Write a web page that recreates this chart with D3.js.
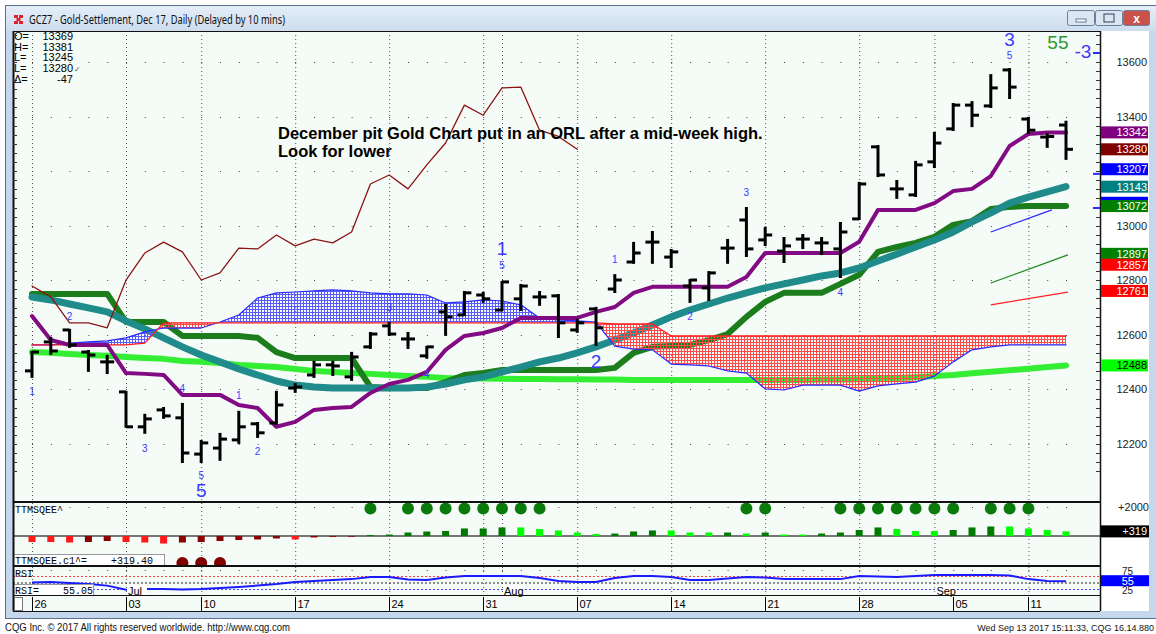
<!DOCTYPE html>
<html>
<head>
<meta charset="utf-8">
<script src="https://d3js.org/d3.v7.min.js"></script>
<style>
  html, body { margin: 0; padding: 0; background: #fff; }
  svg { display: block; font-family: "Liberation Sans", Arial, sans-serif; }
</style>
</head>
<body>
<div id="chart"></div>
<script>
// GCZ7 daily chart: bars, ichimoku-style lines, TTM squeeze and RSI panels

const tradingDays = ["06-26","06-27","06-28","06-29","06-30","07-03","07-05","07-06","07-07","07-10",
    "07-11","07-12","07-13","07-14","07-17","07-18","07-19","07-20","07-21","07-24",
    "07-25","07-26","07-27","07-28","07-31","08-01","08-02","08-03","08-04","08-07",
    "08-08","08-09","08-10","08-11","08-14","08-15","08-16","08-17","08-18","08-21",
    "08-22","08-23","08-24","08-25","08-28","08-29","08-30","08-31","09-01","09-05",
    "09-06","09-07","09-08","09-11","09-12","09-13"];

const opens  = [12468,12574,12618,12537,12501,12391,12263,12325,12296,12163,12185,12215,12274,12277,12405,12453,12490,12446,12556,12633,
    12585,12523,12684,12673,12746,12691,12732,12739,12743,12618,12695,12768,12867,12940,12885,12779,12772,12918,13021,12948,
    12907,12951,12937,12915,13025,13289,13135,13113,13234,13355,13442,13439,13571,13391,13325,13369];
const highs  = [12537,12589,12618,12541,12523,12391,12307,12332,12347,12211,12237,12318,12277,12391,12420,12501,12501,12534,12607,12644,
    12607,12556,12710,12757,12754,12794,12783,12757,12746,12655,12699,12819,12937,12977,12911,12801,12830,12948,13065,12992,
    12955,12966,12955,13010,13157,13292,13164,13234,13340,13446,13453,13552,13574,13395,13336,13381];
const lows   = [12446,12530,12556,12468,12460,12263,12241,12296,12134,12134,12142,12204,12226,12274,12391,12446,12453,12435,12552,12600,
    12552,12516,12600,12673,12721,12691,12691,12710,12592,12611,12563,12757,12864,12864,12849,12721,12728,12864,12889,12929,
    12867,12918,12896,12812,13025,13182,13102,13109,13215,13351,13365,13435,13468,13340,13289,13245];
const closes = [12537,12541,12563,12526,12501,12263,12292,12303,12167,12204,12218,12263,12241,12343,12409,12490,12486,12519,12603,12603,
    12585,12556,12666,12754,12732,12794,12779,12739,12644,12644,12626,12801,12900,12940,12904,12801,12827,12918,12915,12966,
    12926,12951,12937,12977,13153,13186,13135,13223,13303,13442,13405,13505,13508,13350,13327,13280];

const conversionLine = [12669,12581,12563,12563,12563,12460,12457,12453,12380,12380,12380,12343,12332,12263,12281,12325,12332,12336,12387,12420,
    12435,12464,12545,12596,12607,12625,12662,12662,12662,12662,12684,12702,12754,12776,12776,12776,12776,12776,12812,12900,
    12900,12900,12900,12900,12941,13058,13058,13058,13083,13127,13135,13182,13292,13336,13342,13342];
const baseLine = [12750,12750,12750,12750,12750,12647,12647,12647,12596,12596,12596,12596,12589,12537,12515,12515,12515,12515,12409,12405,
    12405,12405,12427,12453,12460,12471,12471,12471,12471,12471,12471,12479,12534,12556,12559,12563,12581,12603,12666,12721,
    12754,12754,12754,12787,12820,12904,12922,12937,12959,13003,13017,13061,13069,13072,13072,13072];
const tealAverage = [12739,12728,12713,12699,12684,12651,12622,12589,12556,12526,12501,12475,12453,12431,12416,12409,12405,12405,12405,12405,
    12405,12409,12420,12435,12446,12464,12482,12501,12515,12534,12556,12581,12607,12636,12666,12691,12713,12735,12754,12772,
    12787,12801,12816,12827,12845,12871,12896,12922,12948,12977,13014,13047,13083,13105,13124,13143];
const limeAverage = [12537,12534,12530,12526,12523,12519,12515,12512,12504,12501,12497,12490,12486,12482,12475,12468,12464,12460,12457,12453,
    12449,12446,12442,12441,12440,12439,12438,12438,12437,12437,12436,12436,12435,12435,12435,12435,12435,12435,12435,12435,
    12435,12435,12436,12436,12437,12439,12442,12445,12449,12453,12459,12465,12470,12476,12482,12488];
const spanA = [12563,12563,12563,12563,12563,12563,12570,12644,12644,12644,12644,12644,12644,12644,12644,12644,12644,12644,12644,12644,
    12644,12644,12644,12644,12644,12644,12644,12644,12644,12644,12644,12640,12640,12640,12596,12596,12596,12596,12596,12596,
    12596,12596,12596,12596,12596,12596,12596,12596,12596,12596,12596,12596,12596,12596,12596,12596];
const spanB = [12563,12563,12570,12574,12578,12589,12611,12625,12625,12625,12647,12673,12735,12754,12757,12761,12765,12761,12754,12750,
    12750,12746,12717,12721,12728,12724,12710,12662,12655,12651,12647,12559,12548,12545,12493,12490,12486,12468,12460,12402,
    12398,12416,12416,12416,12394,12413,12420,12427,12449,12501,12545,12556,12563,12563,12563,12563];
// closes shown 26 sessions back
const laggingSpan = [12779,12739,12644,12644,12626,12801,12900,12940,12904,12801,12827,12918,12915,12966,12926,12951,12937,12977,13153,13186,
    13135,13223,13303,13442,13405,13505,13508,13350,13327,13280];

const trendSegments = [
    { name: "blue",  from: 51, to: 54.25, v0: 12977, v1: 13058 },
    { name: "green", from: 51, to: 55.1,  v0: 12790, v1: 12893 },
    { name: "red",   from: 51, to: 55.1,  v0: 12710, v1: 12757 }
];

const squeezeHist = [-414,-414,-450,-414,-345,-414,-450,-520,-450,-414,-345,-276,-240,-170,-240,-100,-60,-50,70,100,
    240,310,345,520,520,590,590,480,380,240,140,170,310,380,380,240,240,240,170,240,
    100,100,170,240,414,590,480,345,345,414,590,655,655,520,414,319];
// R falling below zero, r rising below zero, g rising above zero, G falling above zero
const squeezeTone = "RRRrrRRRrrrrrrRrrrggggggggGGGGGgggGGGgGgGGggggGGGgggGGGG";
const squeezeDotsTop = ["07-21","07-25","07-26","07-27","07-28","07-31","08-01","08-02","08-03","08-18","08-21",
    "08-25","08-28","08-29","08-30","08-31","09-01","09-05","09-07","09-08","09-11"];
const squeezeDotsBottom = ["07-07","07-10","07-11"];

const rsiValues = [50,52,48,44,38,22,25,25,23,25,29,33,38,44,52,56,60,63,71,71,
    62,60,69,75,75,75,75,67,56,52,52,67,75,75,71,60,60,65,71,69,
    63,63,63,63,75,73,71,75,79,79,79,79,77,63,56,55];

const priceTickValues = [12200,12400,12600,12800,13000,13200,13400,13600];
const weekStarts = ["06-26","07-03","07-10","07-17","07-24","07-31","08-07","08-14","08-21","08-28","09-05","09-11"];
const weekLabels = ["26","03","10","17","24","31","07","14","21","28","05","11"];
const gridDays = ["06-26","07-03","07-10","07-17","07-24","07-31","08-01","08-07","08-14","08-21","08-28","09-01","09-11"];
const monthStarts = ["07-03","08-01","09-01"];
const monthLabels = ["Jul","Aug","Sep"];

const waveSmall = [
    ["06-26", 12391, "1"], ["06-28", 12666, "2"], ["07-05", 12185, "3"], ["07-07", 12402, "4"],
    ["07-10", 12083, "5"], ["07-12", 12376, "1"], ["07-13", 12171, "2"], ["07-24", 12702, "3"],
    ["07-26", 12453, "4"], ["08-01", 12856, "5"], ["08-09", 12878, "1"], ["08-15", 12666, "2"],
    ["08-18", 13120, "3"], ["08-25", 12754, "4"], ["09-08", 13622, "5"]
];
const waveBig = [["07-10", 12028, "5"], ["08-01", 12915, "1"], ["08-08", 12501, "2"], ["09-08", 13681, "3"]];

const valueBoxes = [
    { v: 13342, text: "13342", fill: "#800080", ink: "#fff" },
    { v: 13280, text: "13280", fill: "#800000", ink: "#fff" },
    { v: 13207, text: "13207", fill: "#0000ff", ink: "#fff" },
    { v: 13143, text: "13143", fill: "#008080", ink: "#fff" },
    { v: 13084, text: "", fill: "#0000ff", ink: "#fff" },
    { v: 13072, text: "13072", fill: "#008000", ink: "#fff" },
    { v: 12897, text: "12897", fill: "#008000", ink: "#fff" },
    { v: 12857, text: "12857", fill: "#ff0000", ink: "#fff" },
    { v: 12761, text: "12761", fill: "#ff0000", ink: "#fff" },
    { v: 12488, text: "12488", fill: "#00ff00", ink: "#000" }
];
const blueAxisMarks = [13633, 13190, 13065];

const headerRows = [["O=", "13369"], ["H=", "13381"], ["L=", "13245"], ["L=", "13280"], ["\u0394=", "-47"]];

// ---------------------------------------------------------------
const W = 1156, H = 634;
const plotLeft = 13, plotRight = 1100;
const priceTop = 31, priceBottom = 501;
const sqTop = 502, sqBottom = 566;
const rsiTop = 566, rsiBottom = 595;
const axisBottom = 611;

const x = d3.scaleLinear().domain([0, tradingDays.length - 1]).range([32, 1066]);
const y = d3.scaleLinear().domain([12200, 13600]).range([444, 62]);
const ySq = d3.scaleLinear().domain([0, 2000]).range([536, 507]);
const yRsi = d3.scaleLinear().domain([25, 75]).range([589, 576]);
const dayIdx = d => tradingDays.indexOf(d);

const svg = d3.select("#chart").append("svg")
    .attr("width", W)
    .attr("height", H)
    .attr("viewBox", `0 0 ${W} ${H}`);

const defs = svg.append("defs");

const titleGrad = defs.append("linearGradient").attr("id", "title-grad")
    .attr("x1", "0%").attr("x2", "0%").attr("y1", "0%").attr("y2", "100%");
titleGrad.append("stop").attr("offset", "0%").attr("stop-color", "#e4eef9");
titleGrad.append("stop").attr("offset", "100%").attr("stop-color", "#cddded");

function addHatch(id, color) {
    const p = defs.append("pattern").attr("id", id)
        .attr("width", 3).attr("height", 3)
        .attr("patternUnits", "userSpaceOnUse");
    p.append("rect").attr("width", 3).attr("height", 1).attr("fill", color);
    p.append("rect").attr("width", 1).attr("height", 3).attr("fill", color);
}
addHatch("hatch-blue", "#5a5aff");
addHatch("hatch-red", "#ff4a4a");

defs.append("clipPath").attr("id", "clip-price")
    .append("rect").attr("x", plotLeft).attr("y", priceTop)
    .attr("width", plotRight - plotLeft).attr("height", priceBottom - priceTop);
defs.append("clipPath").attr("id", "clip-sq")
    .append("rect").attr("x", plotLeft).attr("y", sqTop)
    .attr("width", plotRight - plotLeft).attr("height", sqBottom - sqTop);

const idx = d3.range(tradingDays.length);
defs.append("clipPath").attr("id", "clip-above-red")
    .append("path")
    .attr("d", d3.area().x(i => x(i)).y0(priceTop).y1(i => y(spanA[i]))(idx));
defs.append("clipPath").attr("id", "clip-below-red")
    .append("path")
    .attr("d", d3.area().x(i => x(i)).y0(priceBottom).y1(i => y(spanA[i]))(idx));

// ---------- window chrome ----------
svg.append("rect").attr("width", W).attr("height", H).attr("fill", "#ffffff");
svg.append("rect")
    .attr("x", 5.5).attr("y", 5.5).attr("width", 1160).attr("height", 613)
    .attr("fill", "#c4d7ed").attr("stroke", "#5b7091");
svg.append("rect")
    .attr("x", 6).attr("y", 6).attr("width", 1160).attr("height", 25)
    .attr("fill", "url(#title-grad)");

const icon = svg.append("g").attr("transform", "translate(14,15)");
[[0,0],[5,0],[2.5,3],[0,6],[5,6]].forEach(([a, b]) => {
    icon.append("rect").attr("x", a).attr("y", b).attr("width", 4).attr("height", 3).attr("fill", "#e0202a");
});

svg.append("text")
    .attr("x", 29).attr("y", 24)
    .attr("font-family", "'Noto Sans', 'Liberation Sans', sans-serif")
    .attr("font-size", 12).attr("fill", "#111")
    .attr("textLength", 256).attr("lengthAdjust", "spacingAndGlyphs")
    .text("GCZ7 - Gold-Settlement, Dec 17, Daily (Delayed by 10 mins)");

const buttons = [
    { x: 1067, w: 27, fill: "#dbe6f3", glyph: "min" },
    { x: 1095, w: 27, fill: "#dbe6f3", glyph: "max" },
    { x: 1123, w: 26, fill: "#c9534a", glyph: "close" }
];
buttons.forEach(b => {
    svg.append("rect").attr("x", b.x + 0.5).attr("y", 10.5).attr("width", b.w).attr("height", 15)
        .attr("rx", 2).attr("fill", b.fill).attr("stroke", "#6c7f9a");
    const cx = b.x + b.w / 2 + 0.5;
    if (b.glyph === "min") {
        svg.append("rect").attr("x", cx - 5).attr("y", 19).attr("width", 10).attr("height", 3)
            .attr("fill", "#fff").attr("stroke", "#4a5a70").attr("stroke-width", 0.8);
    } else if (b.glyph === "max") {
        svg.append("rect").attr("x", cx - 5).attr("y", 14).attr("width", 10).attr("height", 8)
            .attr("fill", "none").attr("stroke", "#4a5a70").attr("stroke-width", 1.2);
    } else {
        svg.append("text").attr("x", cx).attr("y", 22.5).attr("text-anchor", "middle")
            .attr("font-size", 12).attr("font-weight", "bold").attr("fill", "#fff").text("x");
    }
});

// plot surfaces
svg.append("rect")
    .attr("x", plotLeft).attr("y", priceTop)
    .attr("width", plotRight - plotLeft).attr("height", axisBottom - priceTop)
    .attr("fill", "#f5fbf7");
svg.append("rect")
    .attr("x", plotRight).attr("y", priceTop)
    .attr("width", 49).attr("height", axisBottom - priceTop)
    .attr("fill", "#ffffff");

// ---------- grids ----------
const grid = svg.append("g").attr("class", "grid");
grid.selectAll("line.vgrid")
    .data(gridDays)
    .join("line")
    .attr("class", "vgrid")
    .attr("x1", d => x(dayIdx(d)) + 0.5).attr("x2", d => x(dayIdx(d)) + 0.5)
    .attr("y1", priceTop).attr("y2", rsiBottom)
    .attr("stroke", "#555").attr("stroke-width", 1).attr("stroke-dasharray", "1,3");

const dotRows = priceTickValues.map(v => y(v)).concat([ySq(2000), yRsi(100)]);
dotRows.forEach(rowY => {
    grid.append("g").selectAll("rect")
        .data(idx)
        .join("rect")
        .attr("x", i => x(i)).attr("y", Math.round(rowY))
        .attr("width", 1).attr("height", 1)
        .attr("fill", "#444");
});

// ---------- price panel ----------
const price = svg.append("g").attr("clip-path", "url(#clip-price)");

function drawLine(values, color, width, startIndex = 0) {
    price.append("path")
        .datum(values)
        .attr("fill", "none")
        .attr("stroke", color)
        .attr("stroke-width", width)
        .attr("stroke-linejoin", "round")
        .attr("stroke-linecap", "round")
        .attr("d", d3.line().x((d, i) => x(i + startIndex)).y(d => y(d)));
}

drawLine(limeAverage, "#33ee33", 6);
drawLine(baseLine, "#1c7d1c", 6);
drawLine(tealAverage, "#1f8b8b", 7);

const cloud = d3.area().x(i => x(i)).y0(i => y(spanA[i])).y1(i => y(spanB[i]));
price.append("path").attr("d", cloud(idx)).attr("fill", "url(#hatch-blue)").attr("clip-path", "url(#clip-above-red)");
price.append("path").attr("d", cloud(idx)).attr("fill", "url(#hatch-red)").attr("clip-path", "url(#clip-below-red)");
drawLine(spanB, "#2a2aff", 1.2);
drawLine(spanA, "#ff1a1a", 1.2);

drawLine(conversionLine, "#820a82", 4);
drawLine(laggingSpan, "#8b1414", 1.3);

trendSegments.forEach(s => {
    const color = { blue: "#2a2aff", green: "#1c8a1c", red: "#ff2020" }[s.name];
    price.append("line")
        .attr("x1", x(s.from)).attr("y1", y(s.v0))
        .attr("x2", x(s.to)).attr("y2", y(s.v1))
        .attr("stroke", color).attr("stroke-width", 1.3);
});

// OHLC bars
const bars = price.append("g").selectAll("g")
    .data(idx)
    .join("g")
    .attr("stroke", "#000")
    .attr("stroke-width", 3);
bars.append("line")
    .attr("x1", i => x(i)).attr("x2", i => x(i))
    .attr("y1", i => y(highs[i]) - 1).attr("y2", i => y(lows[i]) + 1);
bars.append("line")
    .attr("x1", i => x(i) - 7).attr("x2", i => x(i))
    .attr("y1", i => y(opens[i])).attr("y2", i => y(opens[i]));
bars.append("line")
    .attr("x1", i => x(i)).attr("x2", i => x(i) + 7)
    .attr("y1", i => y(closes[i])).attr("y2", i => y(closes[i]));

// wave counts
const waves = svg.append("g")
    .attr("fill", "#3a3aff")
    .attr("text-anchor", "middle")
    .attr("dominant-baseline", "central");
waves.selectAll("text.small")
    .data(waveSmall)
    .join("text")
    .attr("class", "small")
    .attr("x", d => x(dayIdx(d[0]))).attr("y", d => y(d[1]))
    .attr("font-size", 10)
    .text(d => d[2]);
waves.selectAll("text.big")
    .data(waveBig)
    .join("text")
    .attr("class", "big")
    .attr("x", d => x(dayIdx(d[0]))).attr("y", d => y(d[1]))
    .attr("font-size", 19)
    .text(d => d[2]);
svg.append("text")
    .attr("x", x(54.57)).attr("y", y(13670))
    .attr("text-anchor", "middle").attr("dominant-baseline", "central")
    .attr("font-size", 19).attr("fill", "#2f972f")
    .text("55");
svg.append("text")
    .attr("x", x(55.9)).attr("y", y(13640))
    .attr("text-anchor", "middle").attr("dominant-baseline", "central")
    .attr("font-size", 19).attr("fill", "#3a3aff")
    .text("-3");

// comment text
const note = svg.append("g")
    .attr("font-family", "'Liberation Sans', Arial, sans-serif")
    .attr("font-weight", "bold")
    .attr("font-size", 16.5)
    .attr("fill", "#000");
note.append("text").attr("x", 278).attr("y", 139)
    .text("December pit Gold Chart put in an ORL after a mid-week high.");
note.append("text").attr("x", 278).attr("y", 157)
    .text("Look for lower");

// header readout
const header = svg.append("g").attr("font-size", 11).attr("fill", "#000");
headerRows.forEach((r, k) => {
    header.append("text").attr("x", 14).attr("y", 40 + k * 10.7).text(r[0]);
    header.append("text").attr("x", 73).attr("y", 40 + k * 10.7).attr("text-anchor", "end").text(r[1]);
});
header.append("text").attr("x", 74).attr("y", 40 + 3 * 10.7).attr("font-size", 8).attr("fill", "#555").text("\u2713");

// ---------- squeeze panel ----------
const sq = svg.append("g").attr("clip-path", "url(#clip-sq)");
sq.append("line")
    .attr("x1", plotLeft).attr("x2", plotRight)
    .attr("y1", ySq(0)).attr("y2", ySq(0))
    .attr("stroke", "#777").attr("stroke-width", 2);
const toneColor = { R: "#ff1a1a", r: "#8b0000", G: "#00ff00", g: "#007a00" };
sq.selectAll("rect.hist")
    .data(idx)
    .join("rect")
    .attr("class", "hist")
    .attr("x", i => x(i) - 3.5)
    .attr("width", 7)
    .attr("y", i => Math.min(ySq(0), ySq(squeezeHist[i])))
    .attr("height", i => Math.abs(ySq(squeezeHist[i]) - ySq(0)))
    .attr("fill", i => toneColor[squeezeTone[i]]);
sq.selectAll("circle.top")
    .data(squeezeDotsTop)
    .join("circle")
    .attr("class", "top")
    .attr("cx", d => x(dayIdx(d))).attr("cy", 508.5).attr("r", 6)
    .attr("fill", "#0a7a0a");
sq.selectAll("circle.bottom")
    .data(squeezeDotsBottom)
    .join("circle")
    .attr("class", "bottom")
    .attr("cx", d => x(dayIdx(d))).attr("cy", 563).attr("r", 6)
    .attr("fill", "#800000");

const mono = "'Liberation Mono', 'DejaVu Sans Mono', monospace";
svg.append("text").attr("x", 15).attr("y", 513)
    .attr("font-family", mono).attr("font-size", 10).attr("fill", "#000").text("TTMSQEE^");
svg.append("rect").attr("x", 13.5).attr("y", 554.5).attr("width", 151).attr("height", 12)
    .attr("fill", "#fff").attr("stroke", "#999");
svg.append("text").attr("x", 15).attr("y", 564)
    .attr("font-family", mono).attr("font-size", 10).attr("fill", "#000")
    .attr("xml:space", "preserve").text("TTMSQEE.c1^=    +319.40");

// ---------- RSI panel ----------
const rsiRefs = [[75, "#ff4040"], [50, "#222"], [25, "#4040ff"]];
rsiRefs.forEach(([v, c]) => {
    svg.append("line")
        .attr("x1", plotLeft).attr("x2", plotRight)
        .attr("y1", yRsi(v) + 0.5).attr("y2", yRsi(v) + 0.5)
        .attr("stroke", c).attr("stroke-width", 1).attr("stroke-dasharray", "2,2");
});
svg.append("path")
    .datum(rsiValues)
    .attr("fill", "none")
    .attr("stroke", "#1a1aff")
    .attr("stroke-width", 2)
    .attr("d", d3.line().x((d, i) => x(i)).y(d => yRsi(d)));

svg.append("text").attr("x", 15).attr("y", 577)
    .attr("font-family", mono).attr("font-size", 10).attr("fill", "#000").text("RSI");
svg.append("rect").attr("x", 13.5).attr("y", 584.5).attr("width", 80).attr("height", 11)
    .attr("fill", "#fff").attr("stroke", "#999");
svg.append("text").attr("x", 15).attr("y", 593.5)
    .attr("font-family", mono).attr("font-size", 10).attr("fill", "#000")
    .attr("xml:space", "preserve").text("RSI=    55.05");

monthStarts.forEach((d, k) => {
    const mx = x(dayIdx(d)) + 2;
    svg.append("rect").attr("x", mx - 1).attr("y", 585).attr("width", 20).attr("height", 10).attr("fill", "#fff");
    svg.append("text").attr("x", mx).attr("y", 594.5)
        .attr("font-size", 11).attr("fill", "#000").text(monthLabels[k]);
});

// ---------- panel borders ----------
const borders = svg.append("g").attr("stroke", "#111");
[[sqTop, 2], [sqBottom, 2], [rsiBottom + 0.5, 1], [priceTop + 0.5, 1], [axisBottom + 0.5, 1]].forEach(([yy, w]) => {
    borders.append("line").attr("x1", plotLeft).attr("x2", plotRight).attr("y1", yy).attr("y2", yy).attr("stroke-width", w);
});
borders.append("line").attr("x1", plotLeft + 0.5).attr("x2", plotLeft + 0.5)
    .attr("y1", priceTop).attr("y2", axisBottom).attr("stroke-width", 2);
borders.append("line").attr("x1", plotRight + 0.5).attr("x2", plotRight + 0.5)
    .attr("y1", priceTop).attr("y2", axisBottom).attr("stroke-width", 1.5);

// minor ticks on both edges of the price panel
const minorTicks = d3.range(12100, 13740, 200 / 6);
svg.append("g").selectAll("line")
    .data(minorTicks.filter(v => y(v) > priceTop && y(v) < priceBottom))
    .join("line")
    .attr("x1", plotRight - 4).attr("x2", plotRight)
    .attr("y1", v => Math.round(y(v)) + 0.5).attr("y2", v => Math.round(y(v)) + 0.5)
    .attr("stroke", "#333");
svg.append("g").selectAll("line")
    .data(minorTicks.filter(v => y(v) > priceTop && y(v) < priceBottom))
    .join("line")
    .attr("x1", plotLeft).attr("x2", plotLeft + 4)
    .attr("y1", v => Math.round(y(v)) + 0.5).attr("y2", v => Math.round(y(v)) + 0.5)
    .attr("stroke", "#333");
svg.append("g").selectAll("line")
    .data(blueAxisMarks)
    .join("line")
    .attr("x1", plotRight - 7).attr("x2", plotRight)
    .attr("y1", v => y(v)).attr("y2", v => y(v))
    .attr("stroke", "#2a2aff").attr("stroke-width", 2);

// ---------- right axis ----------
const axisText = svg.append("g").attr("font-size", 11).attr("fill", "#222");
axisText.selectAll("text")
    .data(priceTickValues)
    .join("text")
    .attr("x", 1147).attr("y", v => y(v) + 4)
    .attr("text-anchor", "end")
    .text(v => v);

valueBoxes.forEach(b => {
    svg.append("rect")
        .attr("x", plotRight + 1).attr("y", y(b.v) - 6)
        .attr("width", 47).attr("height", 12)
        .attr("fill", b.fill);
    if (b.text) {
        svg.append("text")
            .attr("x", 1147).attr("y", y(b.v) + 4)
            .attr("text-anchor", "end").attr("font-size", 11)
            .attr("fill", b.ink).text(b.text);
    }
});

svg.append("text").attr("x", 1149).attr("y", ySq(2000) + 4)
    .attr("text-anchor", "end").attr("font-size", 11).attr("fill", "#222").text("+2000");
svg.append("rect").attr("x", plotRight + 1).attr("y", ySq(319) - 6)
    .attr("width", 48).attr("height", 12).attr("fill", "#000");
svg.append("text").attr("x", 1147).attr("y", ySq(319) + 4)
    .attr("text-anchor", "end").attr("font-size", 11).attr("fill", "#fff").text("+319");

// RSI scale labels sit half under the current-value box, as in the source
svg.append("text").attr("x", 1133).attr("y", yRsi(75) - 1)
    .attr("text-anchor", "end").attr("font-size", 10).attr("fill", "#222").text("75");
svg.append("text").attr("x", 1133).attr("y", yRsi(25) + 5)
    .attr("text-anchor", "end").attr("font-size", 10).attr("fill", "#222").text("25");
svg.append("rect").attr("x", plotRight + 1).attr("y", yRsi(55) - 6)
    .attr("width", 48).attr("height", 11).attr("fill", "#0000ff");
svg.append("text").attr("x", 1134).attr("y", yRsi(55) + 4)
    .attr("text-anchor", "end").attr("font-size", 11).attr("fill", "#fff").text("55");

// ---------- date axis ----------
svg.append("rect").attr("x", 14.5).attr("y", 597.5).attr("width", 8).attr("height", 13)
    .attr("fill", "#fff").attr("stroke", "#777");
const dateAxis = svg.append("g").attr("font-size", 11).attr("fill", "#000");
weekStarts.forEach((d, k) => {
    const tx = Math.round(x(dayIdx(d))) + 0.5;
    dateAxis.append("line").attr("x1", tx).attr("x2", tx).attr("y1", 597).attr("y2", 611)
        .attr("stroke", "#000");
    dateAxis.append("text").attr("x", tx + 2).attr("y", 608).text(weekLabels[k]);
});

// ---------- footer ----------
svg.append("rect").attr("x", 0).attr("y", 619).attr("width", W).attr("height", 15).attr("fill", "#fff");
svg.append("text").attr("x", 5).attr("y", 631)
    .attr("font-size", 10).attr("fill", "#111")
    .attr("textLength", 285).attr("lengthAdjust", "spacingAndGlyphs")
    .text("CQG Inc. \u00a9 2017 All rights reserved worldwide. http://www.cqg.com");
svg.append("text").attr("x", 1154).attr("y", 631)
    .attr("text-anchor", "end")
    .attr("font-size", 9).attr("fill", "#111")
    .text("Wed Sep 13 2017 15:11:33, CQG 16.14.880");
</script>
</body>
</html>
